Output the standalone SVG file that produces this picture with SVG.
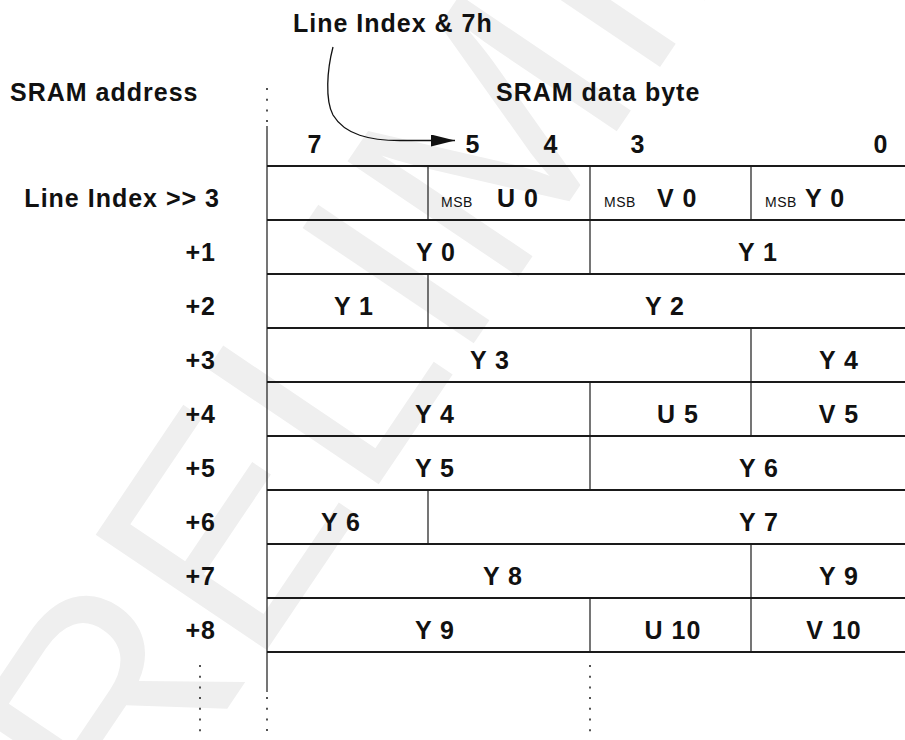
<svg xmlns="http://www.w3.org/2000/svg" width="905" height="740" viewBox="0 0 905 740">
<style>
.t{font-family:"Liberation Sans",Arial,sans-serif;font-weight:bold;font-size:25px;letter-spacing:1px;fill:#111}
.m{text-anchor:middle}
.e{text-anchor:end}
.s{font-size:14px;font-weight:normal;letter-spacing:0.5px}
.h{stroke:#1a1a1a;stroke-width:1.8;fill:none}
.v{stroke:#1a1a1a;stroke-width:1.2;fill:none}
.d{stroke:#1a1a1a;stroke-width:1.5;stroke-dasharray:2 8.7;fill:none}
.wm{font-family:"Liberation Sans",Arial,sans-serif;font-size:300px;fill:#efefef}
</style>
<defs>
<marker id="ah" markerUnits="userSpaceOnUse" markerWidth="24" markerHeight="12" refX="24" refY="6" orient="auto">
<path d="M0,0 L24,6 L0,12 z" fill="#111"/>
</marker>
</defs>
<rect width="905" height="740" fill="#fff"/>
<g id="watermark">
<text class="wm" transform="translate(20,1016) rotate(-56)">PRELIMINARY</text>
</g>
<g id="headers">
<text class="t" x="293" y="32">Line Index &amp; 7h</text>
<text class="t" x="10" y="101">SRAM address</text>
<text class="t" x="496" y="101">SRAM data byte</text>
</g>
<g id="bits">
<text class="t m" x="315" y="153">7</text>
<text class="t m" x="473" y="153">5</text>
<text class="t m" x="551" y="153">4</text>
<text class="t m" x="638" y="153">3</text>
<text class="t m" x="881" y="153">0</text>
</g>
<g id="grid">
<line class="d" x1="267" y1="88" x2="267" y2="126"/>
<line class="v" x1="267" y1="126" x2="267" y2="692"/>
<line class="d" x1="267" y1="697" x2="267" y2="735"/>
<line class="d" x1="590" y1="665" x2="590" y2="735"/>
<line class="d" x1="200" y1="665" x2="200" y2="735"/>
<line class="h" x1="267" y1="166" x2="905" y2="166"/>
<line class="h" x1="267" y1="220" x2="905" y2="220"/>
<line class="h" x1="267" y1="274" x2="905" y2="274"/>
<line class="h" x1="267" y1="328" x2="905" y2="328"/>
<line class="h" x1="267" y1="382" x2="905" y2="382"/>
<line class="h" x1="267" y1="436" x2="905" y2="436"/>
<line class="h" x1="267" y1="490" x2="905" y2="490"/>
<line class="h" x1="267" y1="544" x2="905" y2="544"/>
<line class="h" x1="267" y1="598" x2="905" y2="598"/>
<line class="h" x1="267" y1="652" x2="905" y2="652"/>
</g>
<g id="row0">
<line class="v" x1="428" y1="166" x2="428" y2="220"/>
<line class="v" x1="590" y1="166" x2="590" y2="220"/>
<line class="v" x1="751" y1="166" x2="751" y2="220"/>
<text class="t e" x="220" y="207">Line Index &gt;&gt; 3</text>
<text class="t s" x="441" y="207">MSB</text><text class="t" x="497" y="207">U 0</text>
<text class="t s" x="604" y="207">MSB</text><text class="t" x="657" y="207">V 0</text>
<text class="t s" x="765" y="207">MSB</text><text class="t" x="805" y="207">Y 0</text>
</g>
<g id="row1">
<line class="v" x1="590" y1="220" x2="590" y2="274"/>
<text class="t e" x="216" y="261">+1</text>
<text class="t m" x="436" y="261">Y 0</text>
<text class="t m" x="758" y="261">Y 1</text>
</g>
<g id="row2">
<line class="v" x1="428" y1="274" x2="428" y2="328"/>
<text class="t e" x="216" y="315">+2</text>
<text class="t m" x="354" y="315">Y 1</text>
<text class="t m" x="665" y="315">Y 2</text>
</g>
<g id="row3">
<line class="v" x1="751" y1="328" x2="751" y2="382"/>
<text class="t e" x="216" y="369">+3</text>
<text class="t m" x="490" y="369">Y 3</text>
<text class="t m" x="839" y="369">Y 4</text>
</g>
<g id="row4">
<line class="v" x1="590" y1="382" x2="590" y2="436"/>
<line class="v" x1="751" y1="382" x2="751" y2="436"/>
<text class="t e" x="216" y="423">+4</text>
<text class="t m" x="435" y="423">Y 4</text>
<text class="t m" x="678" y="423">U 5</text>
<text class="t m" x="839" y="423">V 5</text>
</g>
<g id="row5">
<line class="v" x1="590" y1="436" x2="590" y2="490"/>
<text class="t e" x="216" y="477">+5</text>
<text class="t m" x="435" y="477">Y 5</text>
<text class="t m" x="759" y="477">Y 6</text>
</g>
<g id="row6">
<line class="v" x1="428" y1="490" x2="428" y2="544"/>
<text class="t e" x="216" y="531">+6</text>
<text class="t m" x="341" y="531">Y 6</text>
<text class="t m" x="759" y="531">Y 7</text>
</g>
<g id="row7">
<line class="v" x1="751" y1="544" x2="751" y2="598"/>
<text class="t e" x="216" y="585">+7</text>
<text class="t m" x="503" y="585">Y 8</text>
<text class="t m" x="839" y="585">Y 9</text>
</g>
<g id="row8">
<line class="v" x1="590" y1="598" x2="590" y2="652"/>
<line class="v" x1="751" y1="598" x2="751" y2="652"/>
<text class="t e" x="216" y="639">+8</text>
<text class="t m" x="435" y="639">Y 9</text>
<text class="t m" x="673" y="639">U 10</text>
<text class="t m" x="834" y="639">V 10</text>
</g>
<g id="connectors">
<path d="M333,47 C327,70 325,100 333,115 C345,135 370,140.5 400,140.5 L455,140.5" fill="none" stroke="#111" stroke-width="1.3" marker-end="url(#ah)"/>
</g>
</svg>
